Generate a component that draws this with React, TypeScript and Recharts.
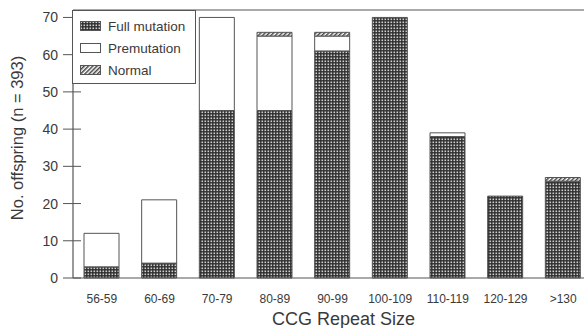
import React from "react";
import { BarChart, Bar, XAxis, YAxis, Legend, ReferenceLine } from "recharts";

const categories = ["56-59", "60-69", "70-79", "80-89", "90-99", "100-109", "110-119", "120-129", ">130"];
const fullMutation = [3, 4, 45, 45, 61, 70, 38, 22, 26];
const premutation = [9, 17, 25, 20, 4, 0, 1, 0, 0];
const normal = [0, 0, 0, 1, 1, 0, 0, 0, 1];
const yTicks = [0, 10, 20, 30, 40, 50, 60, 70];

const data = categories.map((c, i) => ({
  cat: c,
  full: fullMutation[i],
  pre: premutation[i],
  norm: normal[i],
}));

const FONT = "'Liberation Sans', Arial, sans-serif";
const TEXT = "#3a3a3a";
const LINE = "#555";
const TICK_SIZE = 8;
const TICK_MARGIN = 4;

const YTick = (props: any) => {
  const { x, y, payload } = props;
  const ax = x + TICK_SIZE + TICK_MARGIN;
  return (
    <g>
      <line x1={ax - 10} x2={ax + 8} y1={y} y2={y} stroke={LINE} strokeWidth={1} />
      <text x={x - 3} y={y} dy="0.36em" textAnchor="end" fontSize={14} fill={TEXT} fontFamily={FONT}>
        {payload.value}
      </text>
    </g>
  );
};

const legendItems = [
  { label: "Full mutation", fill: "url(#fullPat)" },
  { label: "Premutation", fill: "#fff" },
  { label: "Normal", fill: "url(#hatchPat)" },
];

const LegendBox = () => (
  <div
    style={{
      border: `1px solid ${LINE}`,
      background: "#fff",
      width: 122,
      height: 68,
      boxSizing: "content-box",
      fontFamily: FONT,
      fontSize: 13.5,
      color: TEXT,
      paddingTop: 4,
    }}
  >
    {legendItems.map((it) => (
      <div key={it.label} style={{ display: "flex", alignItems: "center", height: 22, paddingLeft: 7 }}>
        <svg width={21} height={10} style={{ marginRight: 7 }}>
          <rect x={0.5} y={0.5} width={20} height={9} fill={it.fill} stroke={LINE} strokeWidth={1} />
        </svg>
        <span>{it.label}</span>
      </div>
    ))}
  </div>
);

export default function App() {
  return (
    <div
      style={{
        position: "fixed",
        left: 0,
        top: 0,
        width: 584,
        height: 328,
        overflow: "hidden",
        background: "#fff",
      }}
    >
      <BarChart
        width={600}
        height={328}
        data={data}
        margin={{ top: 10, right: 8, left: 0, bottom: 0 }}
        barSize={35}
      >
        <defs>
          <pattern id="fullPat" width={3} height={3} patternUnits="userSpaceOnUse">
            <rect width={3} height={3} fill="#2e2e2e" />
            <rect x={0.5} y={0.5} width={1.6} height={1.6} fill="#cfcfcf" />
          </pattern>
          <pattern
            id="hatchPat"
            width={3}
            height={3}
            patternUnits="userSpaceOnUse"
            patternTransform="rotate(45)"
          >
            <rect width={3} height={3} fill="#fff" />
            <line x1={0.75} y1={0} x2={0.75} y2={3} stroke="#444" strokeWidth={1.5} />
          </pattern>
        </defs>
        <XAxis
          dataKey="cat"
          height={50}
          tickLine={false}
          axisLine={{ stroke: LINE, strokeWidth: 1.2 }}
          tickMargin={10}
          tick={{ fontSize: 12, fill: TEXT, fontFamily: FONT }}
          interval={0}
          label={(p: any) => {
            const vb = p.viewBox;
            return (
              <text
                x={vb.x + vb.width / 2 + 11}
                y={vb.y + 47}
                textAnchor="middle"
                fontSize={18}
                fill={TEXT}
                fontFamily={FONT}
              >
                CCG Repeat Size
              </text>
            );
          }}
        />
        <YAxis
          width={73}
          domain={[0, 72]}
          ticks={yTicks}
          interval={0}
          tickSize={TICK_SIZE}
          tickMargin={TICK_MARGIN}
          tickLine={false}
          axisLine={{ stroke: LINE, strokeWidth: 1.2 }}
          tick={<YTick />}
          label={(p: any) => {
            const vb = p.viewBox;
            const cx = 17;
            const cy = vb.y + vb.height / 2 - 6;
            return (
              <text
                x={cx}
                y={cy}
                transform={`rotate(-90, ${cx}, ${cy})`}
                textAnchor="middle"
                dominantBaseline="central"
                fontSize={16.5}
                fill={TEXT}
                fontFamily={FONT}
              >
                No. offspring (n = 393)
              </text>
            );
          }}
        />
        <ReferenceLine y={72} stroke={LINE} strokeWidth={1.2} />
        <Legend
          layout="vertical"
          align="center"
          verticalAlign="middle"
          content={<LegendBox />}
          wrapperStyle={{ top: 10, left: 72, width: "auto", height: "auto" }}
        />
        <Bar dataKey="full" stackId="a" fill="url(#fullPat)" stroke={LINE} strokeWidth={1} isAnimationActive={false} />
        <Bar dataKey="pre" stackId="a" fill="#fff" stroke={LINE} strokeWidth={1} isAnimationActive={false} />
        <Bar dataKey="norm" stackId="a" fill="url(#hatchPat)" stroke={LINE} strokeWidth={1} isAnimationActive={false} />
      </BarChart>
    </div>
  );
}
